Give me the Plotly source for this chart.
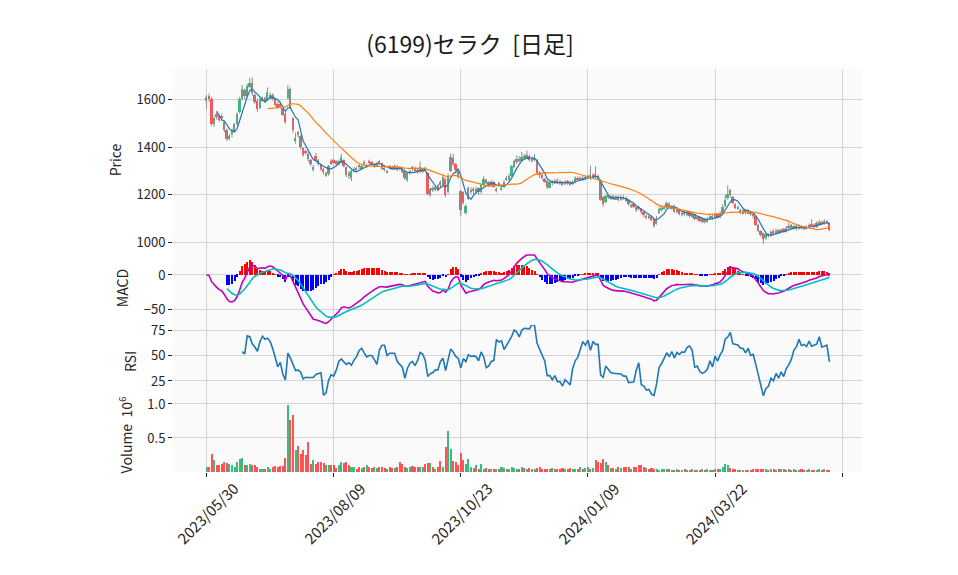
import numpy as np
import pandas as pd
import plotly.graph_objects as go
from plotly.subplots import make_subplots

# 日足データ (2023/05/30 〜 2024/05 末, 246本)
opens = [
    1592, 1612, 1600, 1497, 1540, 1530, 1530, 1505, 1470, 1432,
    1455, 1468, 1495, 1545, 1600, 1640, 1615, 1650, 1668, 1620,
    1595, 1565, 1595, 1605, 1598, 1605, 1618, 1600, 1580, 1582,
    1565, 1540, 1605, 1645, 1520, 1425, 1462, 1445, 1395, 1385,
    1372, 1345, 1305, 1362, 1345, 1325, 1308, 1280, 1288, 1342,
    1345, 1340, 1330, 1338, 1345, 1315, 1290, 1270, 1300, 1312,
    1325, 1310, 1338, 1318, 1342, 1338, 1318, 1322, 1342, 1332,
    1312, 1294, 1322, 1318, 1308, 1318, 1316, 1310, 1298, 1262,
    1290, 1318, 1312, 1305, 1295, 1298, 1312, 1290, 1200, 1230,
    1220, 1240, 1255, 1240, 1268, 1210, 1300, 1355, 1330, 1300,
    1215, 1210, 1125, 1182, 1215, 1225, 1212, 1228, 1212, 1240,
    1262, 1252, 1240, 1252, 1215, 1250, 1222, 1232, 1272, 1262,
    1280, 1318, 1338, 1352, 1342, 1362, 1352, 1362, 1340, 1345,
    1345, 1292, 1282, 1268, 1258, 1230, 1258, 1248, 1262, 1258,
    1252, 1245, 1258, 1252, 1245, 1252, 1272, 1262, 1272, 1265,
    1272, 1282, 1272, 1288, 1278, 1262, 1190, 1170, 1200, 1185,
    1195, 1182, 1192, 1180, 1192, 1188, 1178, 1150, 1160, 1150,
    1150, 1140, 1128, 1105, 1112, 1108, 1100, 1080, 1125, 1138,
    1142, 1148, 1162, 1142, 1152, 1128, 1140, 1115, 1128, 1115,
    1128, 1108, 1118, 1098, 1108, 1088, 1100, 1088, 1098, 1112,
    1102, 1120, 1106, 1122, 1152, 1185, 1220, 1190, 1160, 1142,
    1138, 1122, 1135, 1122, 1130, 1122, 1110, 1075, 1048, 1040,
    1018, 1035, 1028, 1048, 1036, 1052, 1040, 1058, 1045, 1060,
    1072, 1058, 1070, 1058, 1068, 1065, 1058, 1065, 1078, 1075,
    1066, 1078, 1088, 1080, 1092, 1080,
]
highs = [
    1618, 1625, 1610, 1528, 1548, 1535, 1540, 1510, 1478, 1455,
    1478, 1500, 1545, 1610, 1660, 1645, 1665, 1690, 1692, 1625,
    1600, 1608, 1612, 1612, 1650, 1628, 1625, 1605, 1590, 1590,
    1570, 1548, 1660, 1650, 1525, 1460, 1468, 1450, 1400, 1390,
    1380, 1352, 1325, 1375, 1350, 1330, 1312, 1298, 1325, 1350,
    1352, 1345, 1348, 1372, 1350, 1320, 1300, 1305, 1318, 1318,
    1328, 1325, 1345, 1330, 1348, 1342, 1330, 1338, 1345, 1335,
    1318, 1305, 1325, 1322, 1328, 1325, 1320, 1315, 1300, 1295,
    1305, 1322, 1318, 1310, 1340, 1312, 1318, 1295, 1230, 1238,
    1240, 1245, 1260, 1285, 1272, 1290, 1372, 1372, 1335, 1302,
    1220, 1215, 1160, 1235, 1232, 1232, 1235, 1232, 1245, 1278,
    1268, 1258, 1262, 1258, 1232, 1255, 1238, 1262, 1280, 1290,
    1325, 1348, 1365, 1362, 1380, 1372, 1385, 1368, 1360, 1370,
    1350, 1300, 1290, 1272, 1262, 1260, 1262, 1268, 1268, 1262,
    1258, 1262, 1262, 1258, 1262, 1278, 1278, 1278, 1280, 1282,
    1285, 1322, 1290, 1320, 1285, 1265, 1195, 1200, 1205, 1200,
    1200, 1198, 1198, 1200, 1198, 1195, 1182, 1165, 1165, 1155,
    1155, 1145, 1132, 1118, 1115, 1112, 1104, 1112, 1150, 1158,
    1158, 1172, 1170, 1158, 1158, 1145, 1142, 1130, 1132, 1135,
    1132, 1125, 1122, 1112, 1110, 1104, 1104, 1108, 1118, 1118,
    1125, 1125, 1130, 1160, 1200, 1240, 1225, 1195, 1165, 1155,
    1142, 1140, 1138, 1140, 1135, 1125, 1112, 1078, 1052, 1042,
    1040, 1040, 1052, 1055, 1058, 1058, 1060, 1062, 1070, 1085,
    1078, 1075, 1075, 1078, 1072, 1070, 1072, 1080, 1098, 1080,
    1090, 1095, 1092, 1098, 1095, 1085,
]
lows = [
    1560, 1590, 1488, 1485, 1515, 1505, 1508, 1462, 1425, 1428,
    1440, 1462, 1490, 1540, 1595, 1600, 1610, 1645, 1615, 1580,
    1548, 1560, 1590, 1585, 1595, 1600, 1595, 1570, 1558, 1562,
    1530, 1498, 1600, 1560, 1460, 1415, 1440, 1390, 1360, 1368,
    1340, 1320, 1298, 1338, 1322, 1300, 1285, 1275, 1280, 1325,
    1328, 1322, 1325, 1335, 1315, 1275, 1265, 1258, 1295, 1298,
    1305, 1305, 1325, 1312, 1330, 1325, 1312, 1318, 1330, 1305,
    1298, 1290, 1308, 1305, 1305, 1300, 1302, 1290, 1262, 1255,
    1285, 1300, 1295, 1288, 1290, 1292, 1295, 1198, 1192, 1212,
    1215, 1215, 1232, 1235, 1190, 1205, 1295, 1320, 1295, 1268,
    1112, 1160, 1118, 1178, 1205, 1205, 1205, 1200, 1205, 1235,
    1245, 1232, 1235, 1230, 1210, 1235, 1218, 1228, 1258, 1258,
    1275, 1312, 1330, 1335, 1338, 1345, 1348, 1340, 1335, 1340,
    1285, 1270, 1262, 1250, 1225, 1228, 1240, 1245, 1245, 1242,
    1238, 1240, 1242, 1238, 1240, 1248, 1258, 1258, 1258, 1260,
    1268, 1262, 1268, 1268, 1262, 1175, 1150, 1165, 1182, 1180,
    1180, 1178, 1172, 1175, 1180, 1170, 1155, 1145, 1145, 1128,
    1135, 1120, 1105, 1100, 1098, 1090, 1062, 1075, 1120, 1130,
    1138, 1145, 1142, 1138, 1125, 1122, 1115, 1110, 1112, 1110,
    1105, 1102, 1095, 1092, 1085, 1082, 1080, 1084, 1095, 1095,
    1098, 1100, 1102, 1120, 1148, 1180, 1190, 1160, 1140, 1138,
    1120, 1118, 1118, 1118, 1112, 1100, 1070, 1045, 1025, 995,
    1010, 1022, 1025, 1035, 1032, 1036, 1038, 1042, 1042, 1055,
    1055, 1055, 1052, 1055, 1055, 1052, 1055, 1062, 1068, 1060,
    1062, 1072, 1075, 1075, 1078, 1048,
]
closes = [
    1610, 1600, 1495, 1520, 1525, 1512, 1520, 1470, 1435, 1445,
    1470, 1495, 1540, 1600, 1645, 1615, 1655, 1670, 1625, 1590,
    1560, 1600, 1605, 1590, 1630, 1620, 1600, 1575, 1565, 1570,
    1535, 1505, 1645, 1565, 1470, 1440, 1450, 1400, 1365, 1375,
    1350, 1330, 1315, 1345, 1330, 1310, 1295, 1290, 1320, 1330,
    1335, 1330, 1340, 1360, 1320, 1285, 1280, 1300, 1310, 1305,
    1315, 1320, 1330, 1325, 1335, 1330, 1325, 1330, 1335, 1310,
    1305, 1300, 1315, 1310, 1320, 1305, 1310, 1295, 1270, 1290,
    1300, 1310, 1300, 1295, 1315, 1305, 1300, 1205, 1225, 1220,
    1235, 1220, 1240, 1275, 1200, 1280, 1360, 1330, 1305, 1275,
    1135, 1168, 1153, 1230, 1222, 1215, 1225, 1210, 1240, 1265,
    1250, 1240, 1255, 1235, 1225, 1240, 1230, 1255, 1265, 1280,
    1320, 1340, 1350, 1345, 1360, 1355, 1365, 1345, 1350, 1355,
    1290, 1285, 1270, 1255, 1235, 1255, 1250, 1260, 1255, 1250,
    1245, 1255, 1250, 1245, 1255, 1270, 1265, 1270, 1265, 1275,
    1280, 1270, 1285, 1275, 1270, 1180, 1160, 1195, 1190, 1195,
    1185, 1190, 1180, 1190, 1185, 1175, 1160, 1155, 1150, 1135,
    1140, 1128, 1115, 1110, 1105, 1095, 1070, 1100, 1140, 1145,
    1150, 1165, 1145, 1150, 1130, 1140, 1120, 1125, 1118, 1130,
    1110, 1120, 1100, 1108, 1090, 1100, 1088, 1100, 1112, 1100,
    1118, 1105, 1120, 1150, 1180, 1205, 1200, 1165, 1145, 1150,
    1125, 1135, 1125, 1135, 1118, 1110, 1075, 1050, 1030, 1015,
    1035, 1028, 1045, 1038, 1050, 1040, 1055, 1045, 1062, 1070,
    1060, 1068, 1058, 1065, 1062, 1058, 1068, 1075, 1072, 1065,
    1082, 1088, 1080, 1090, 1082, 1052,
]
# 出来高 (千株)
volume_k = [
    70, 70, 270, 170, 100, 100, 120, 150, 130, 120,
    100, 80, 140, 190, 210, 110, 110, 120, 100, 100,
    80, 50, 50, 50, 80, 50, 80, 90, 80, 90,
    90, 200, 990, 770, 840, 320, 380, 260, 320, 250,
    440, 120, 170, 120, 150, 150, 130, 100, 110, 100,
    100, 60, 100, 150, 130, 140, 110, 70, 70, 50,
    70, 60, 70, 100, 70, 60, 70, 60, 70, 80,
    60, 50, 70, 60, 60, 80, 150, 120, 80, 60,
    70, 90, 70, 80, 70, 70, 120, 130, 130, 70,
    50, 80, 160, 70, 370, 600, 340, 160, 140, 110,
    280, 180, 120, 190, 70, 60, 110, 50, 120, 50,
    60, 40, 40, 40, 40, 40, 70, 60, 40, 40,
    80, 60, 40, 50, 80, 60, 40, 60, 50, 40,
    60, 70, 40, 50, 40, 50, 60, 50, 50, 40,
    60, 50, 50, 60, 50, 50, 40, 70, 50, 60,
    70, 40, 60, 180, 150, 130, 190, 150, 110, 60,
    60, 50, 70, 60, 70, 80, 80, 50, 70, 80,
    110, 100, 70, 60, 50, 60, 50, 40, 30, 50,
    40, 50, 40, 30, 30, 40, 30, 30, 40, 30,
    30, 40, 30, 30, 30, 40, 30, 40, 30, 30,
    40, 50, 50, 80, 120, 110, 60, 40, 40, 30,
    30, 30, 30, 30, 30, 40, 50, 40, 50, 40,
    40, 30, 40, 40, 30, 40, 50, 40, 30, 40,
    30, 40, 30, 30, 40, 30, 30, 40, 30, 30,
    30, 40, 30, 40, 30, 30,
]
tick_pos = [0, 50, 100, 150, 200, 250]
tick_labels = ["2023/05/30", "2023/08/09", "2023/10/23", "2024/01/09", "2024/03/22"]

df = pd.DataFrame({"Open": opens, "High": highs, "Low": lows, "Close": closes,
                   "Volume": np.array(volume_k) * 1000})
x = np.arange(len(df))

# テクニカル指標
df["MA5"] = df["Close"].rolling(5).mean()
df["MA25"] = df["Close"].rolling(25).mean()
ema12 = df["Close"].ewm(span=12, adjust=False).mean()
ema26 = df["Close"].ewm(span=26, adjust=False).mean()
df["MACD"] = ema12 - ema26
df["Signal"] = df["MACD"].ewm(span=9, adjust=False, min_periods=9).mean()
df["Hist"] = df["MACD"] - df["Signal"]
delta = df["Close"].diff()
gain = delta.clip(lower=0).rolling(14).mean()
loss = (-delta.clip(upper=0)).rolling(14).mean()
df["RSI"] = 100 - 100 / (1 + gain / loss)

UP = "#3dbb7e"
DOWN = "#ff5252"
GRID = "#d4d4d4"
up = df["Close"] >= df["Open"]
candle_colors = np.where(up, UP, DOWN)

fig = make_subplots(rows=4, cols=1, shared_xaxes=True, vertical_spacing=0,
                    row_heights=[182, 74, 73, 74])

# ローソク足 (ヒゲ + 実体)
wx, wy = [], []
for i, (h, l) in enumerate(zip(df["High"], df["Low"])):
    wx += [i, i, None]
    wy += [l, h, None]
fig.add_trace(go.Scatter(x=wx, y=wy, mode="lines", line=dict(color="#8c8c8c", width=1),
                         hoverinfo="skip"), row=1, col=1)
body_lo = np.minimum(df["Open"], df["Close"])
body_h = np.abs(df["Close"] - df["Open"])
fig.add_trace(go.Bar(x=x, y=body_h, base=body_lo, width=0.72, marker_color=candle_colors,
                     marker_line_width=0), row=1, col=1)
fig.add_trace(go.Scatter(x=x, y=df["MA5"], mode="lines", line=dict(color="#1f77b4", width=1.2)),
              row=1, col=1)
fig.add_trace(go.Scatter(x=x, y=df["MA25"], mode="lines", line=dict(color="#ff7f0e", width=1.2)),
              row=1, col=1)

# MACD
hist_colors = np.where(df["Hist"] >= 0, "#ff0000", "#0000ff")
fig.add_trace(go.Bar(x=x, y=df["Hist"], width=0.8, marker_color=hist_colors, marker_line_width=0),
              row=2, col=1)
fig.add_trace(go.Scatter(x=x, y=df["MACD"], mode="lines", line=dict(color="#bf00bf", width=1.6)),
              row=2, col=1)
fig.add_trace(go.Scatter(x=x, y=df["Signal"], mode="lines", line=dict(color="#00bfbf", width=1.6)),
              row=2, col=1)

# RSI
fig.add_trace(go.Scatter(x=x, y=df["RSI"], mode="lines", line=dict(color="#1f77b4", width=1.6)),
              row=3, col=1)

# 出来高
fig.add_trace(go.Bar(x=x, y=df["Volume"] / 1e6, width=0.8, marker_color=candle_colors,
                     marker_line_width=0), row=4, col=1)

# ページ本体の 8px 余白を見込んだ余白設定
fig.update_layout(
    width=958, height=575,
    margin=dict(l=165, r=104, t=61, b=111),
    paper_bgcolor="white", plot_bgcolor="#fafafa",
    showlegend=False, barmode="overlay", bargap=0,
    font=dict(family="Noto Sans CJK JP", size=13, color="#262626"),
    title=dict(text="(6199)セラク\u00a0\u00a0[日足]", x=462 / 958, xanchor="center",
               y=1 - 37 / 575, yanchor="middle", font=dict(size=23, color="#1a1a1a")),
)

fig.update_xaxes(range=[-13.2, 257.8], tickvals=tick_pos, showgrid=True, gridcolor=GRID,
                 gridwidth=1, zeroline=False, showline=False, showticklabels=False, ticks="",
                 automargin=False)
fig.update_xaxes(ticks="outside", ticklen=4, tickcolor="#262626", row=4, col=1)

# 日付ラベル: 目盛り位置を中心に45度回転
for pos, lab in zip(tick_pos, tick_labels):
    fig.add_annotation(x=pos, xref="x4", y=0, yref="paper", yshift=-41, text=lab,
                       textangle=-45, showarrow=False, xanchor="center", yanchor="middle",
                       font=dict(size=15, color="#262626"))

yax = dict(showgrid=True, gridcolor=GRID, gridwidth=1, zeroline=False, showline=False,
           ticks="outside", ticklen=4, tickcolor="#262626", automargin=False,
           title_standoff=11, title_font=dict(size=14))
fig.update_yaxes(range=[965, 1727], tickvals=[1000, 1200, 1400, 1600], title_text="Price",
                 row=1, col=1, **yax)
fig.update_yaxes(range=[-73, 35], tickvals=[-50, 0], title_text="MACD", row=2, col=1, **yax)
fig.update_yaxes(range=[8.3, 79.9], tickvals=[25, 50, 75], title_text="RSI", row=3, col=1, **yax)
fig.update_yaxes(range=[0, 1.088], tickvals=[0.5, 1.0], ticktext=["0.5", "1.0"],
                 title_text="Volume  10<sup>6</sup>", row=4, col=1, **yax)

fig.write_html("out.html")
